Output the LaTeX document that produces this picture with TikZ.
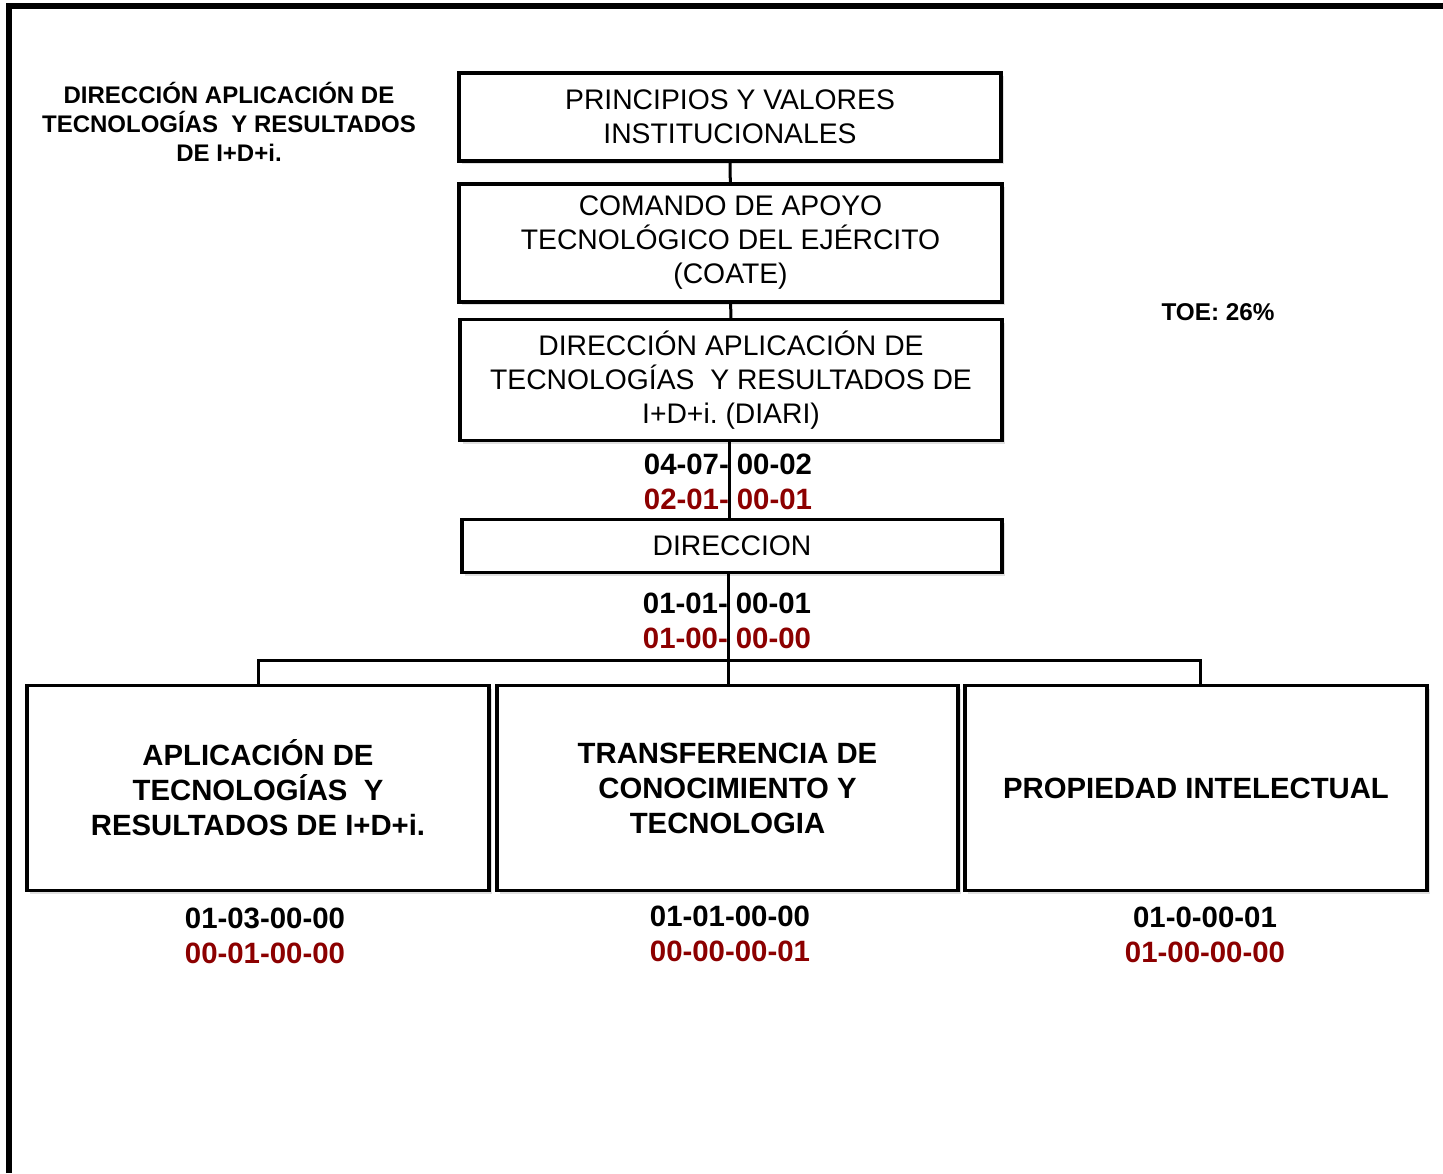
\documentclass[tikz,border=0pt]{standalone}
\usepackage{fontspec}
\setmainfont{Liberation Sans}
\usepackage{tikz}
\usepackage{xcolor}
\usetikzlibrary{shadows}
\definecolor{codered}{RGB}{140,0,0}
\frenchspacing
\tikzset{
    org-box/.style = {draw=black, fill=white, line width=3.5pt, rectangle, align=center, inner sep=0pt, drop shadow={shadow xshift=3pt, shadow yshift=-3pt, opacity=0.25}, font=\fontsize{28.3}{34}\selectfont},
    unit-box/.style = {org-box, font=\bfseries\fontsize{29.3}{35}\selectfont},
    code-text/.style = {font=\bfseries\fontsize{29.4}{35.5}\selectfont, align=center, inner sep=0pt},
    org-line/.style = {draw=black, line width=3pt},
}

\begin{document}
\begin{tikzpicture}[x=1pt, y=-1pt]
\useasboundingbox (0,0) rectangle (1443,1173);
\draw[line width=6pt] (9,1173) -- (9,6) -- (1443,6);

\node[code-text, font=\bfseries\fontsize{24}{29}\selectfont] (title) at (229,122) {DIRECCIÓN APLICACIÓN DE\\TECNOLOGÍAS\ \ Y RESULTADOS\\DE I+D+i.};
\node[code-text, font=\bfseries\fontsize{24.3}{29}\selectfont] (toe) at (1218,312) {TOE: 26\%};

\node[org-box, minimum width=542pt, minimum height=88pt] (principios) at (730,117) {PRINCIPIOS Y VALORES\\INSTITUCIONALES};
\node[org-box, minimum width=543pt, minimum height=118pt] (coate) at (730.5,243) {COMANDO DE APOYO\\TECNOLÓGICO DEL EJÉRCITO\\(COATE)};
\node[org-box, minimum width=542pt, minimum height=121pt] (diari) at (731,380) {DIRECCIÓN APLICACIÓN DE\\TECNOLOGÍAS\ \ Y RESULTADOS DE\\I+D+i. (DIARI)};
\node[org-box, minimum width=540pt, minimum height=53pt] (direccion) at (732,546) {DIRECCION};

\node[unit-box, minimum width=462pt, minimum height=205pt] (aplicacion) at (258,788) {APLICACIÓN DE\\TECNOLOGÍAS\ \ Y\\RESULTADOS DE I+D+i.};
\node[unit-box, minimum width=461pt, minimum height=205pt] (transferencia) at (727.5,788) {TRANSFERENCIA DE\\CONOCIMIENTO Y\\TECNOLOGIA};
\node[unit-box, minimum width=462pt, minimum height=205pt] (propiedad) at (1196,788) {PROPIEDAD INTELECTUAL};

% codigos
\node[code-text] (c-diari) at (728,482) {04-07-\hspace{8pt}00-02\\\textcolor{codered}{02-01-\hspace{8pt}00-01}};
\node[code-text] (c-direccion) at (727,621) {01-01-\hspace{8pt}00-01\\\textcolor{codered}{01-00-\hspace{8pt}00-00}};
\node[code-text] (c-aplicacion) at (265,936) {01-03-00-00\\\textcolor{codered}{00-01-00-00}};
\node[code-text] (c-transferencia) at (730,934) {01-01-00-00\\\textcolor{codered}{00-00-00-01}};
\node[code-text] (c-propiedad) at (1205,935) {01-0-00-01\\\textcolor{codered}{01-00-00-00}};

\coordinate (bus) at (728,660);
\coordinate (bus-right) at (1200,660);
\draw[org-line] (principios) -- (coate);
\draw[org-line] (coate) -- (diari);
\draw[org-line] (diari.south -| 729,0) -- (direccion.north -| 729,0);
\draw[org-line] (direccion.south -| bus) -- (bus);
\draw[org-line] (aplicacion.north) |- (bus-right) -- (propiedad.north -| bus-right);
\draw[org-line] (bus) -- (transferencia.north -| bus);
\end{tikzpicture}
\end{document}
